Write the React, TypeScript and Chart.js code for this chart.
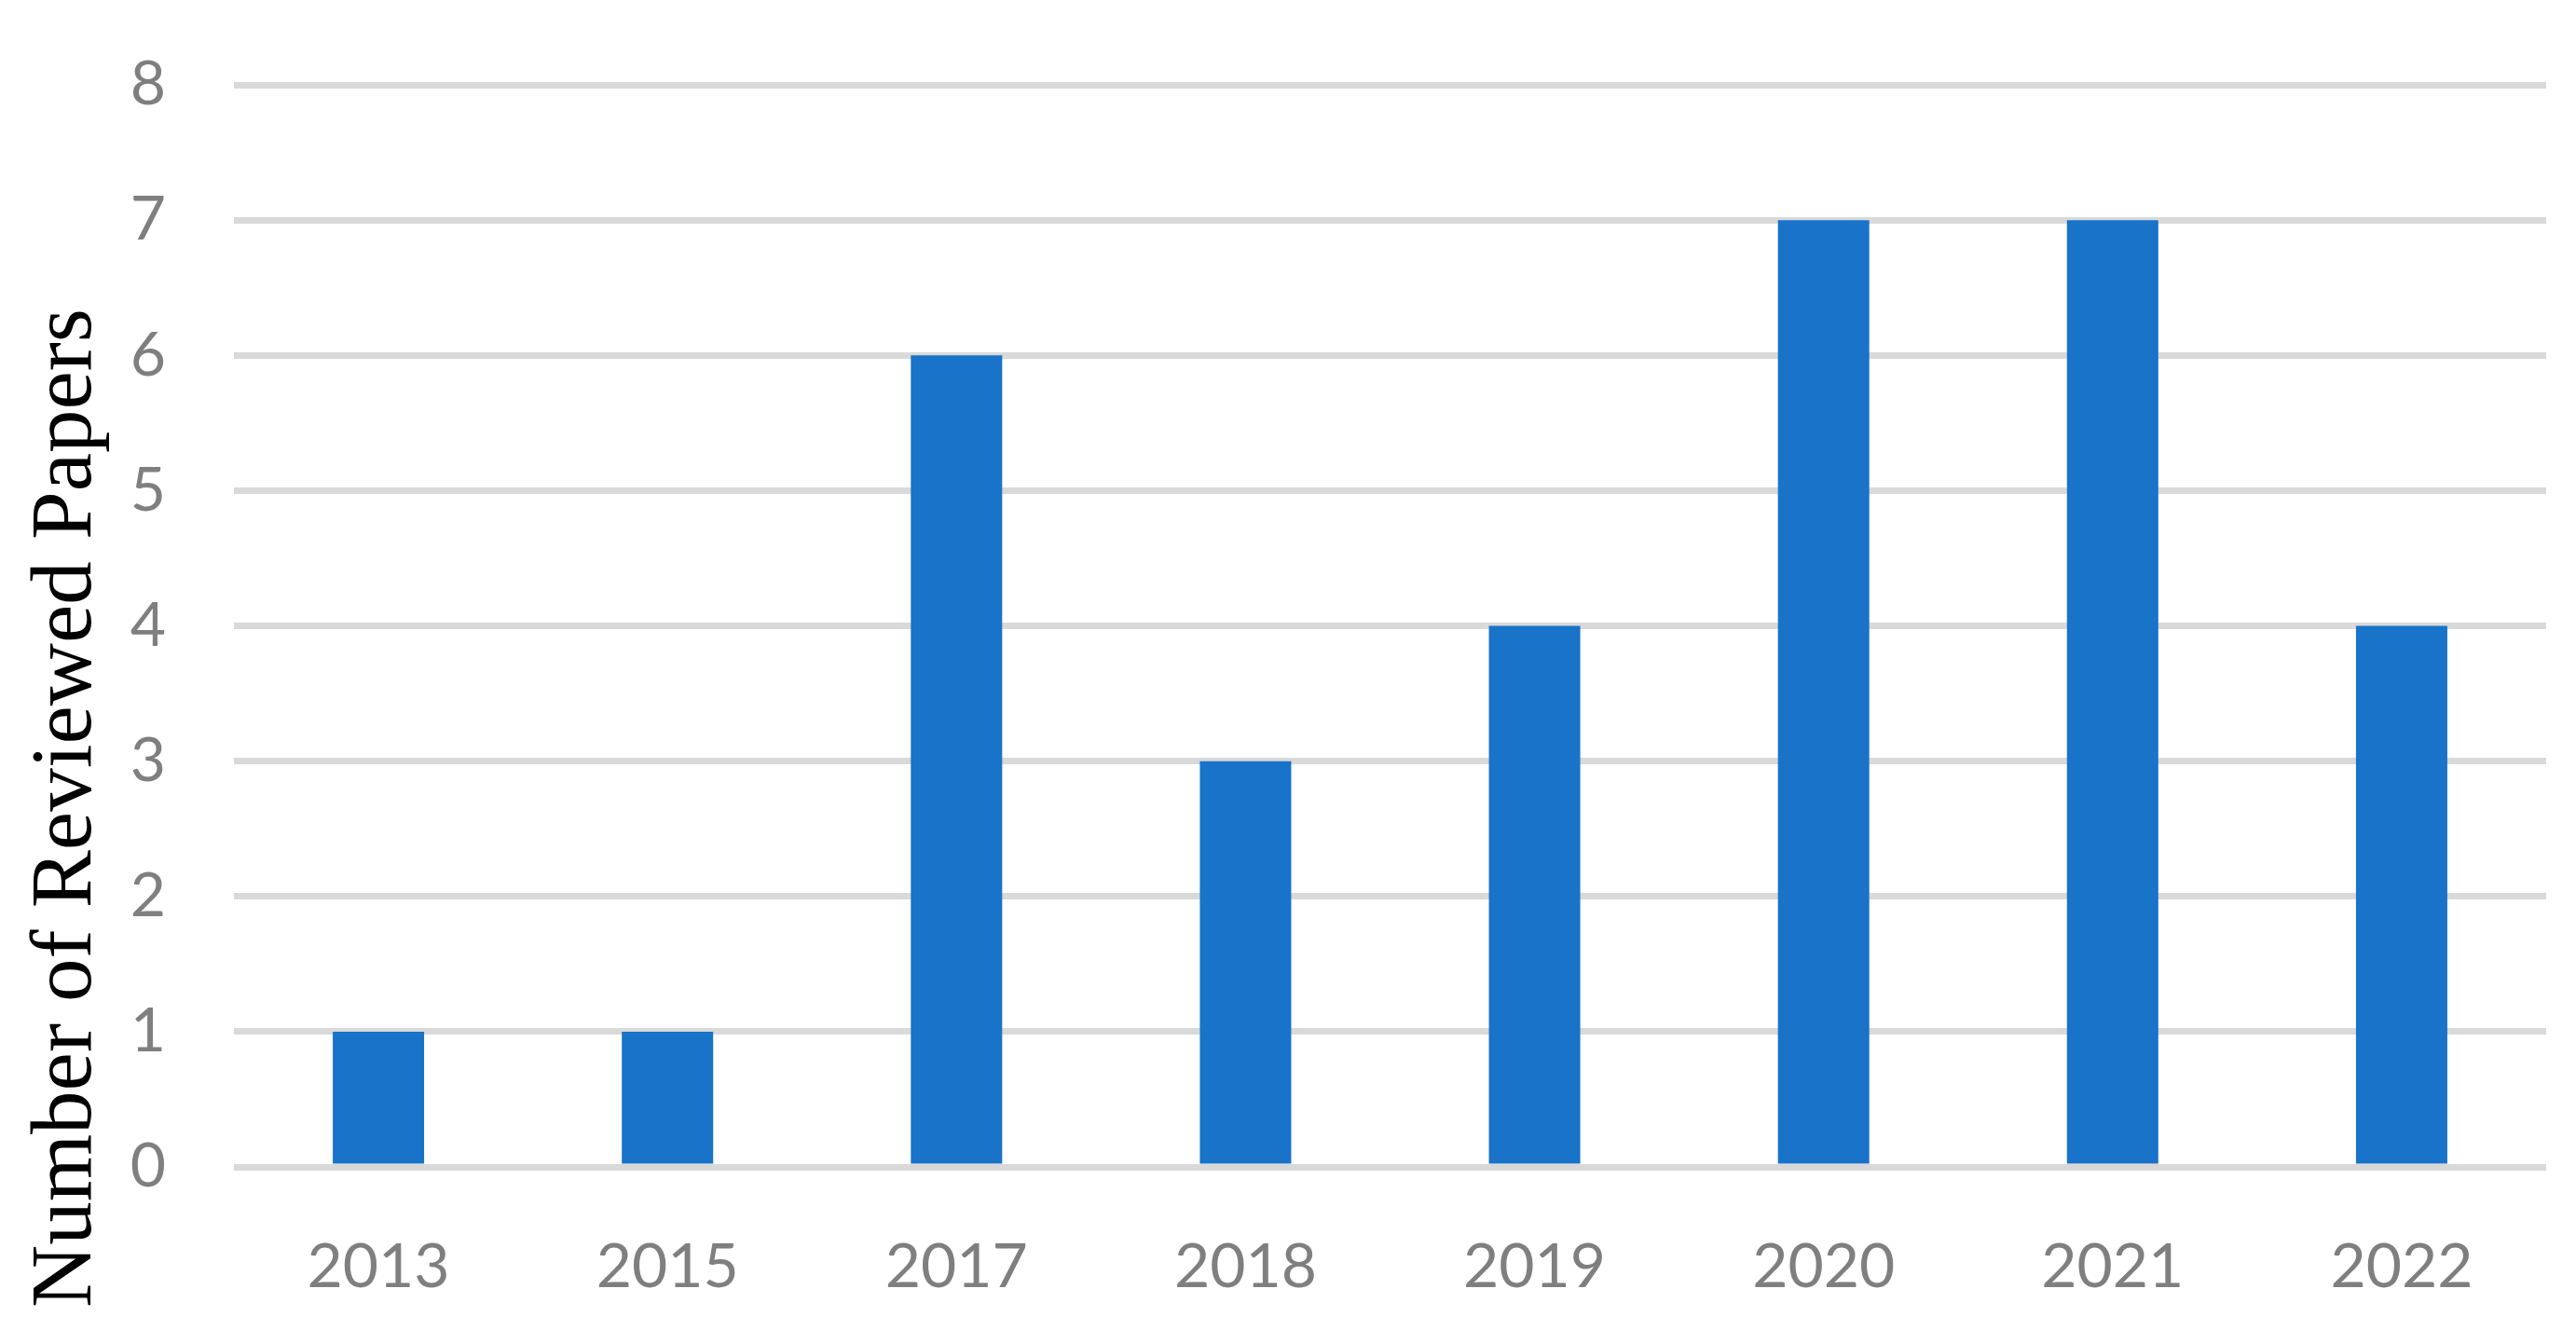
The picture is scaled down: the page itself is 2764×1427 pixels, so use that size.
import React, { useEffect, useRef } from "react";
import { Chart, registerables } from "chart.js";

Chart.register(...registerables);

const years = ["2013", "2015", "2017", "2018", "2019", "2020", "2021", "2022"];
const papers = [1, 1, 6, 3, 4, 7, 7, 4];
const yTitle = "Number of Reviewed Papers";
const yMin = 0;
const yMax = 8;
const yStep = 1;

const W = 2764;
const H = 1427;

const titlePlugin = {
  id: "rotatedTitle",
  afterDraw(chart: any) {
    const ctx = chart.ctx;
    ctx.save();
    ctx.font = "93px 'Liberation Serif', serif";
    ctx.fillStyle = "#000000";
    ctx.textAlign = "center";
    ctx.textBaseline = "alphabetic";
    ctx.translate(97, 867);
    ctx.rotate(-Math.PI / 2);
    ctx.fillText(yTitle, 0, 0);
    ctx.restore();
  },
};

export default function App() {
  const ref = useRef<HTMLCanvasElement | null>(null);

  useEffect(() => {
    if (!ref.current) return;
    const chart = new Chart(ref.current, {
      type: "bar",
      data: {
        labels: years,
        datasets: [
          {
            data: papers,
            backgroundColor: "#1873C9",
            borderWidth: 0,
            barPercentage: 0.316,
            categoryPercentage: 1,
          },
        ],
      },
      options: {
        responsive: false,
        animation: false,
        layout: { padding: { left: 0, right: 32, top: 91, bottom: 0 } },
        plugins: {
          legend: { display: false },
          tooltip: { enabled: false },
          title: { display: false },
        },
        scales: {
          x: {
            grid: { display: false },
            border: { display: false },
            ticks: {
              color: "#7F7F7F",
              font: { family: "Lato", size: 66 },
              padding: 60,
              maxRotation: 0,
            },
            afterFit(scale: any) {
              scale.height = 175;
              scale.paddingLeft = 0;
              scale.paddingRight = 0;
            },
          },
          y: {
            min: yMin,
            max: yMax,
            grid: {
              color: "#D9D9D9",
              lineWidth: 7,
              drawTicks: false,
            },
            border: { display: false },
            ticks: {
              stepSize: yStep,
              color: "#7F7F7F",
              font: { family: "Lato", size: 66 },
              padding: 73,
            },
            afterFit(scale: any) {
              scale.width = 251;
              scale.paddingTop = 0;
              scale.paddingBottom = 0;
            },
          },
        },
      },
      plugins: [titlePlugin],
    });
    return () => chart.destroy();
  }, []);

  return (
    <div style={{ position: "absolute", left: 0, top: 0, width: W, height: H, background: "#ffffff" }}>
      <canvas ref={ref} width={W} height={H} style={{ width: W, height: H, display: "block" }} />
    </div>
  );
}
